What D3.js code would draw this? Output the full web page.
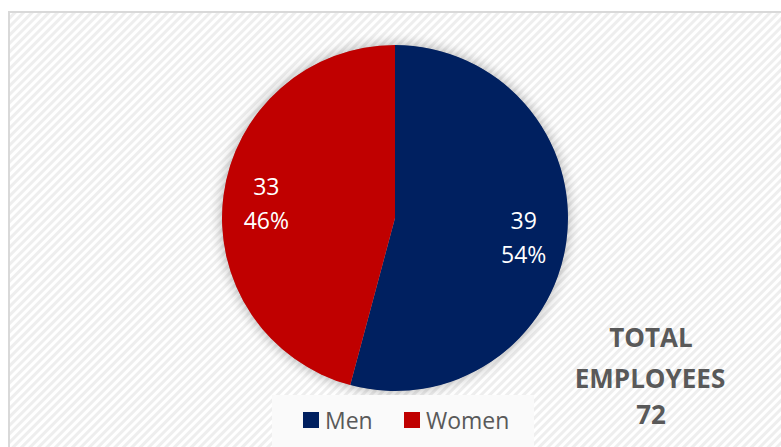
<!DOCTYPE html>
<html><head><meta charset="utf-8">
<script src="https://cdn.jsdelivr.net/npm/d3@7"></script>
<style>html,body{margin:0;padding:0;background:#fff;overflow:hidden}</style>
</head><body>
<svg id="c" width="781" height="447"></svg>
<script>
const categories = ["Men", "Women"];
const values = [39, 33];
const colors = ["#002060", "#C00000"];
const totalLines = ["TOTAL", "EMPLOYEES"];

const svg = d3.select("#c");
const defs = svg.append("defs");
const pat = defs.append("pattern").attr("id","stripes").attr("patternUnits","userSpaceOnUse")
  .attr("width",6).attr("height",6).attr("patternTransform","rotate(45)");
pat.append("rect").attr("width",6).attr("height",6).attr("fill","#ffffff");
pat.append("rect").attr("width",3).attr("height",6).attr("fill","#eeeeee");
const f = defs.append("filter").attr("id","glow").attr("x","-20%").attr("y","-20%").attr("width","140%").attr("height","140%");
f.append("feGaussianBlur").attr("in","SourceAlpha").attr("stdDeviation",7).attr("result","b");
f.append("feComponentTransfer").attr("in","b").attr("result","b2")
  .append("feFuncA").attr("type","linear").attr("slope",0.45);
const fm = f.append("feMerge"); fm.append("feMergeNode").attr("in","b2"); fm.append("feMergeNode").attr("in","SourceGraphic");

// chart area
svg.append("rect").attr("x",9).attr("y",12).attr("width",790).attr("height",450)
  .attr("fill","url(#stripes)").attr("stroke","#d9d9d9").attr("stroke-width",2);

const cx = 395, cy = 218, r = 173;
const total = d3.sum(values);
const pie = d3.pie().sort(null).value(d => d)(values);
const arc = d3.arc().innerRadius(0).outerRadius(r);
const g = svg.append("g").attr("transform",`translate(${cx},${cy})`);
g.append("circle").attr("r",r).attr("fill","#888").attr("filter","url(#glow)").attr("opacity",0.7);
g.selectAll("path.s").data(pie).join("path").attr("class","s")
  .attr("d",arc).attr("fill",(d,i)=>colors[i]);

const labelArc = d3.arc().innerRadius(r*0.75).outerRadius(r*0.75);
const lbl = g.selectAll("text.l").data(pie).join("text").attr("class","l")
  .attr("transform",d=>{const c=labelArc.centroid(d);return `translate(${c[0]},${c[1]})`;})
  .attr("text-anchor","middle").attr("fill","#fff")
  .style("font-family","'Open Sans', sans-serif").style("font-size","23px");
lbl.append("tspan").attr("x",0).attr("dy","-0.25em").text(d=>d.value);
lbl.append("tspan").attr("x",0).attr("dy","1.45em").text(d=>Math.round(d.value/total*100)+"%");

// legend
svg.append("rect").attr("x",272).attr("y",395).attr("width",262).attr("height",60).attr("fill","#fafafa");
const leg = svg.append("g");
const legX = [303, 404];
categories.forEach((c,i)=>{
  leg.append("rect").attr("x",legX[i]).attr("y",412).attr("width",16).attr("height",16).attr("fill",colors[i]);
  leg.append("text").attr("x",legX[i]+22).attr("y",429).text(c).attr("fill","#595959")
    .style("font-family","'Open Sans', sans-serif").style("font-size","23px");
});

// total
const tt = svg.append("text").attr("text-anchor","middle").attr("fill","#595959")
  .style("font-family","'Open Sans', sans-serif").style("font-weight","bold").style("font-size","26px");
tt.append("tspan").attr("x",651).attr("y",347).text(totalLines[0]);
tt.append("tspan").attr("x",650).attr("y",388).text(totalLines[1]);
tt.append("tspan").attr("x",651).attr("y",424).text(total);
</script>
</body></html>
